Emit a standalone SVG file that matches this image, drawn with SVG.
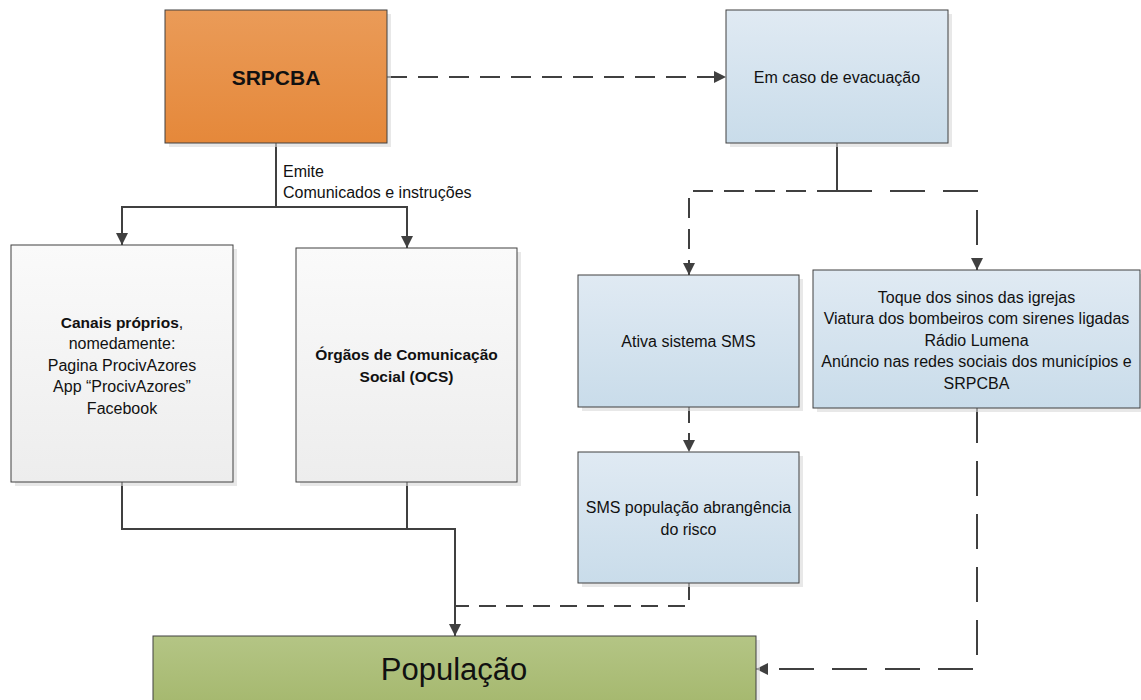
<svg xmlns="http://www.w3.org/2000/svg" width="1141" height="700" viewBox="0 0 1141 700">
<defs>
<linearGradient id="gOrange" x1="0" y1="0" x2="0" y2="1"><stop offset="0" stop-color="#EA9B58"/><stop offset="1" stop-color="#E5883A"/></linearGradient>
<linearGradient id="gBlue" x1="0" y1="0" x2="0" y2="1"><stop offset="0" stop-color="#E0EAF3"/><stop offset="1" stop-color="#C9DCEA"/></linearGradient>
<linearGradient id="gGray" x1="0" y1="0" x2="0" y2="1"><stop offset="0" stop-color="#FAFAFA"/><stop offset="1" stop-color="#EDEDED"/></linearGradient>
<linearGradient id="gGreen" x1="0" y1="0" x2="0" y2="1"><stop offset="0" stop-color="#B4C585"/><stop offset="1" stop-color="#A5B86E"/></linearGradient>
<marker id="arr" markerUnits="userSpaceOnUse" markerWidth="12" markerHeight="12" refX="12" refY="6" orient="auto"><path d="M0,0 L12,6 L0,12 z" fill="#404040"/></marker>
<style>
.box{stroke:#404040;stroke-width:1}
.sh{fill:#D9D9D9;opacity:0.6}
.t{font-family:"Liberation Sans",Arial,sans-serif;font-size:16px;fill:#111;text-anchor:middle}
.b{font-weight:bold;font-size:15.5px}
.c{fill:none;stroke:#404040;stroke-width:2}
.ds{stroke-dasharray:20 11}
.dl{stroke-dasharray:35 18}
</style>
</defs>
<g id="connectors">
<path class="c" d="M276,143 V207 H122 V245" marker-end="url(#arr)"/>
<path class="c" d="M276,207 H407 V248" marker-end="url(#arr)"/>
<path class="c ds" d="M387,77 H726" marker-end="url(#arr)"/>
<path class="c" d="M837,143 V191"/>
<path class="c ds" d="M837,191 H689 V275" marker-end="url(#arr)"/>
<path class="c dl" d="M837,191 H977 V270" marker-end="url(#arr)"/>
<path class="c" style="stroke-dasharray:16 10" d="M689,407 V452" marker-end="url(#arr)"/>
<path class="c" style="stroke-dasharray:17 10" d="M689,583 V606 H455"/>
<path class="c" d="M122,482 V529 H455 V636" marker-end="url(#arr)"/>
<path class="c" d="M407,482 V529"/>
<path class="c dl" d="M977,408 V669 H756" marker-end="url(#arr)"/>
<text class="t" style="text-anchor:start" x="283" y="177">Emite</text>
<text class="t" style="text-anchor:start" x="283" y="198">Comunicados e instruções</text>
</g>
<g id="srpcba">
<rect class="sh" x="169" y="14" width="222" height="133"/>
<rect class="box" x="165" y="10" width="222" height="133" fill="url(#gOrange)"/>
<text class="t b" x="276" y="84.5" style="font-size:21px">SRPCBA</text>
</g>
<g id="evacuacao">
<rect class="sh" x="730" y="14" width="222" height="133"/>
<rect class="box" x="726" y="10" width="222" height="133" fill="url(#gBlue)"/>
<text class="t" x="837" y="82.5">Em caso de evacuação</text>
</g>
<g id="canais">
<rect class="sh" x="15" y="249" width="222" height="237"/>
<rect class="box" x="11" y="245" width="222" height="237" fill="url(#gGray)"/>
<text class="t" x="122" y="327.5"><tspan class="b">Canais próprios</tspan>,</text>
<text class="t" x="122" y="349">nomedamente:</text>
<text class="t" x="122" y="370.5">Pagina ProcivAzores</text>
<text class="t" x="122" y="392">App “ProcivAzores”</text>
<text class="t" x="122" y="413.5">Facebook</text>
</g>
<g id="ocs">
<rect class="sh" x="300" y="252" width="221" height="234"/>
<rect class="box" x="296" y="248" width="221" height="234" fill="url(#gGray)"/>
<text class="t b" x="406.5" y="360">Órgãos de Comunicação</text>
<text class="t b" x="406.5" y="381.5">Social (OCS)</text>
</g>
<g id="ativa">
<rect class="sh" x="582" y="279" width="221" height="132"/>
<rect class="box" x="578" y="275" width="221" height="132" fill="url(#gBlue)"/>
<text class="t" x="688.5" y="346.5">Ativa sistema SMS</text>
</g>
<g id="toque">
<rect class="sh" x="817" y="274" width="327" height="138"/>
<rect class="box" x="813" y="270" width="327" height="138" fill="url(#gBlue)"/>
<text class="t" x="976.5" y="302.5">Toque dos sinos das igrejas</text>
<text class="t" x="976.5" y="324">Viatura dos bombeiros com sirenes ligadas</text>
<text class="t" x="976.5" y="345.5">Rádio Lumena</text>
<text class="t" x="976.5" y="367">Anúncio nas redes sociais dos municípios e</text>
<text class="t" x="976.5" y="388.5">SRPCBA</text>
</g>
<g id="sms">
<rect class="sh" x="582" y="456" width="221" height="131"/>
<rect class="box" x="578" y="452" width="221" height="131" fill="url(#gBlue)"/>
<text class="t" x="688.5" y="512.5">SMS população abrangência</text>
<text class="t" x="688.5" y="534.5">do risco</text>
</g>
<g id="populacao">
<rect class="sh" x="157" y="640" width="603" height="70"/>
<rect class="box" x="153" y="636" width="603" height="70" fill="url(#gGreen)"/>
<text class="t" x="454" y="680" style="font-size:31px">População</text>
</g>
</svg>
